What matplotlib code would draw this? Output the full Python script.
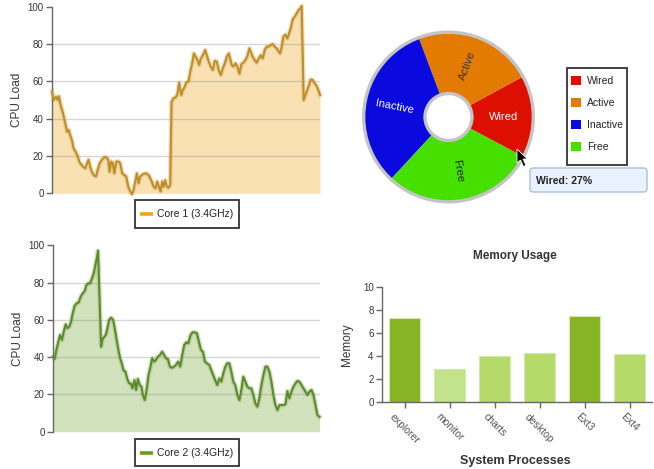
import matplotlib
matplotlib.use("Agg")
import matplotlib.pyplot as plt
from matplotlib.patches import Rectangle, FancyBboxPatch, Circle, Polygon
from matplotlib.lines import Line2D
import math

plt.rcParams['font.family'] = ['Liberation Sans', 'DejaVu Sans']

# ---------------- data ----------------
core1_t = [0, 5, 12, 17, 21, 25, 33, 40, 45, 50, 55, 60, 65, 72, 77, 83, 90, 95, 100, 105,
           110, 115, 120, 125, 132, 137, 143, 150, 157, 163, 169, 173, 178, 183, 187, 193, 200, 205, 211, 217,
           223, 229, 235, 240, 245, 250, 255, 260, 265, 270, 275, 283, 290, 295, 300, 305, 311, 316, 321, 326,
           331, 335, 340, 345, 350, 355, 359, 365, 371, 376, 382, 388, 393, 398, 403, 410, 415, 421, 426, 432,
           437, 442, 447, 453, 460, 465, 471, 477, 483, 489, 495, 501, 507, 513, 519, 525, 531, 535, 540, 545,
           551, 557, 563, 569, 575, 581, 587, 593, 597, 603, 609, 615, 621, 627, 633, 639, 645, 651, 657, 663,
           669, 675, 681, 685, 690, 695, 701, 707, 712, 717, 723, 729, 735, 740, 745, 750, 756, 763, 770, 777,
           783, 789, 795, 800, 805]
core1_load = [54.5, 50, 51.8, 50, 52, 48, 43, 37.5, 33, 34, 31, 28.5, 24, 22, 20, 16.5, 15, 14, 13.4, 16,
              18, 14, 11.6, 9.8, 9, 12.5, 16, 18, 19.3, 19.3, 18, 11.6, 17, 16, 10.7, 17, 17, 16, 10.7, 9.8,
              9, 3.6, 1, -0.5, 1.8, 6.3, 10.7, 5.4, 9, 9.8, 10.4, 10.7, 9.8, 8, 6.3, 3.6, 2.7, 6.3, 3.6, 1,
              6.3, 3.6, 7, 3.6, 3, 4.5, 49, 51, 51.4, 52.7, 59.3, 52.7, 55.4, 56.8, 59.3, 60, 65, 69.6, 75, 73,
              71.4, 68.8, 72.3, 74, 76.8, 74, 70.5, 67.9, 66, 71, 70.5, 66, 63.4, 67, 69.6, 73.2, 75, 72.3, 68.8, 67.9,
              69.6, 67.9, 64, 69.3, 70, 71.4, 73.6, 77.7, 76, 73.2, 71.4, 70, 72.3, 74, 72.3, 76.8, 78.6, 78.6, 79.5, 80,
              78.6, 77.7, 76, 75, 78.6, 84, 85, 83, 85.7, 88.4, 93.2, 94.6, 96.4, 98, 99, 100.4, 50, 53.6, 57, 61,
              60.7, 59, 57.5, 55.4, 52.7]

core2_t = [0, 5, 10, 16, 21, 27, 32, 38, 43, 49, 54, 59, 65, 71, 77, 83, 89, 95, 100, 106,
           111, 117, 122, 127, 131, 135, 140, 144, 149, 154, 158, 163, 168, 174, 180, 185, 190, 196, 201, 206,
           211, 217, 222, 228, 233, 238, 244, 249, 254, 260, 265, 269, 275, 281, 286, 292, 297, 303, 308, 314,
           320, 327, 333, 338, 344, 350, 356, 362, 368, 375, 381, 387, 393, 399, 405, 412, 418, 425, 431, 437,
           443, 449, 455, 461, 468, 474, 480, 486, 492, 498, 504, 510, 516, 522, 528, 534, 540, 546, 552, 558,
           564, 570, 576, 582, 588, 594, 600, 606, 612, 618, 624, 630, 636, 642, 648, 654, 660, 666, 672, 678,
           684, 690, 696, 702, 708, 714, 720, 726, 732, 738, 744, 750, 756, 762, 768, 774, 780, 786, 792, 798]
core2_load = [40.2, 39, 43.8, 48.3, 51.9, 49.2, 53.7, 57.6, 55.5, 56.4, 59, 63.5, 67.6, 68.9, 69.4, 72.5, 74.2, 75.5, 78.7, 79.6,
              79.6, 82.3, 85, 89.4, 93, 97.1, 68, 45.6, 50, 51, 51.9, 55.5, 60, 61.2, 60, 55.5, 50, 43.8, 39.4, 36.7,
              33, 32.2, 28.6, 25.9, 25.9, 23.3, 27.7, 22.4, 28.3, 25, 24.2, 19.7, 17, 23.3, 30.4, 34.9, 39.4, 37.6, 38.5, 40.2,
              41.1, 42.9, 41.1, 39.4, 39, 34.9, 34.3, 34.9, 35.8, 37.6, 34.9, 41.1, 46.5, 47.9, 47.4, 51.9, 53.3, 53.3, 52.8, 48.3,
              43.8, 42.9, 37.6, 36.7, 35.8, 33, 30.2, 27.6, 25, 28.6, 26.8, 31.3, 34.9, 36.7, 36.7, 32.2, 26.8, 25, 19.7, 17,
              22.4, 29.5, 26.8, 24.2, 23.3, 23.3, 19.7, 15.2, 13.4, 17.9, 25, 30.4, 34.9, 34.9, 32.2, 26.8, 19.7, 14.3, 11.6, 14.3,
              14.3, 14.3, 14.7, 21.8, 17.9, 21.5, 24.2, 25.9, 27.2, 26.8, 25, 23.3, 21.5, 19.7, 21.5, 22.4, 19.7, 14.3, 8.9, 8]

cpu_ticks = [0, 20, 40, 60, 80, 100]
cpu_grid = [20, 40, 60, 80]

pie_labels = ['Wired', 'Active', 'Inactive', 'Free']
pie_values = [15.7, 22.8, 32.4, 29.1]
pie_colors = ['#dc0f00', '#e27b00', '#0a0adf', '#45df00']
pie_text_colors = ['white', '#3a3a3a', 'white', '#2a2a2a']
tooltip_text = 'Wired: 27%'

processes = ['explorer', 'monitor', 'charts', 'desktop', 'Ext3', 'Ext4']
memory = [7.3, 2.85, 4.0, 4.25, 7.5, 4.2]
bar_colors = ['#87b425', '#c3e28c', '#b5da6a', '#b5da6a', '#87b425', '#b5da6a']
mem_ticks = [0, 2, 4, 6, 8, 10]

# ---------------- figure ----------------
W, H = 654, 469
fig = plt.figure(figsize=(W / 100, H / 100), dpi=100)


def fx(x):
    return x / W


def fy(y):
    return 1 - y / H


def px_rect(x0, y0, x1, y1):
    return [fx(x0), fy(y1), fx(x1) - fx(x0), fy(y0) - fy(y1)]


def cpu_panel(rect, t, v, line_c, glow_c, fill_c):
    ax = fig.add_axes(rect)
    ax.fill_between(t, v, 0, color=fill_c, lw=0, zorder=1)
    for g in cpu_grid:
        ax.axhline(g, color='#8a8a8a', alpha=0.35, lw=1.0, zorder=1.5)
    ax.plot(t, v, color=glow_c, lw=3.4, alpha=0.45, zorder=2, clip_on=False,
            solid_joinstyle='round')
    ax.plot(t, v, color=line_c, lw=1.5, zorder=3, clip_on=False)
    ax.set_xlim(t[0], t[-1])
    ax.set_ylim(0, 100)
    ax.set_yticks(cpu_ticks)
    ax.set_xticks([])
    for s in ['top', 'right', 'bottom']:
        ax.spines[s].set_visible(False)
    ax.spines['left'].set_color('#666666')
    ax.spines['left'].set_linewidth(1.0)
    ax.tick_params(axis='y', length=4, width=1, color='#666666', labelsize=7,
                   labelcolor='#333333', pad=2)
    ax.set_ylabel('CPU Load', fontsize=8.5, color='#333333', labelpad=3.5)
    ax.patch.set_visible(False)
    return ax


def line_legend(box, color, label):
    x0, y0, x1, y1 = box
    fig.add_artist(Rectangle((fx(x0), fy(y1)), fx(x1) - fx(x0), fy(y0) - fy(y1),
                             transform=fig.transFigure, fill=False, ec='#333333', lw=1.3))
    yc = (y0 + y1) / 2
    fig.add_artist(Line2D([fx(x0 + 5), fx(x0 + 18)], [fy(yc), fy(yc)],
                          transform=fig.transFigure, color=color, lw=2.6, solid_capstyle='butt'))
    fig.text(fx(x0 + 22), fy(yc), label, fontsize=7.5, color='#222222', va='center', ha='left')


cpu_panel(px_rect(52, 6.7, 320, 193.3), core1_t, core1_load, '#bd8f2c', '#e0b868', '#f9e1b4')
line_legend((135, 200, 239, 228), '#f0a418', 'Core 1 (3.4GHz)')

cpu_panel(px_rect(53, 245.3, 319.5, 431.7), core2_t, core2_load, '#5d8a2c', '#9cbc78', '#d2e2bc')
line_legend((135, 439, 239, 466), '#6a9a22', 'Core 2 (3.4GHz)')

# ---------------- pie ----------------
cx, cy, R = 448.5, 117, 87
axp = fig.add_axes(px_rect(cx - R, cy - R, cx + R, cy + R))
wedges, _ = axp.pie(pie_values, colors=pie_colors, startangle=-28, counterclock=True,
                    radius=0.965, wedgeprops=dict(width=0.705, edgecolor='none'))
axp.add_patch(Circle((0, 0), 0.975, fill=False, ec='#c4c4c4', lw=2.4))
axp.add_patch(Circle((0, 0), 0.27, fill=False, ec='#c4c4c4', lw=2.4))
axp.set_xlim(-1, 1)
axp.set_ylim(-1, 1)
axp.set_aspect('auto')
axp.axis('off')
for w, lab, tc in zip(wedges, pie_labels, pie_text_colors):
    th = (w.theta1 + w.theta2) / 2
    r = 0.63
    rot = ((th + 90) % 180) - 90
    axp.text(r * math.cos(math.radians(th)), r * math.sin(math.radians(th)), lab,
             fontsize=8, color=tc, ha='center', va='center', rotation=rot,
             rotation_mode='anchor')

# pie legend
fig.add_artist(Rectangle((fx(567), fy(165)), fx(627) - fx(567), fy(68) - fy(165),
                         transform=fig.transFigure, fill=False, ec='#333333', lw=1.3))
for i, (lab, col) in enumerate(zip(pie_labels, pie_colors)):
    yc = 81 + 22 * i
    fig.add_artist(Rectangle((fx(571), fy(yc + 4.5)), fx(581) - fx(571), fy(yc - 4.5) - fy(yc + 4.5),
                             transform=fig.transFigure, fc=col, ec='none'))
    fig.text(fx(587), fy(yc), lab, fontsize=7.5, color='#222222', va='center', ha='left')

# tooltip
fig.add_artist(FancyBboxPatch((fx(530), fy(192)), fx(647) - fx(530), fy(168) - fy(192),
                              boxstyle='round,pad=0,rounding_size=0.006',
                              transform=fig.transFigure, fc='#e9f1fc', ec='#aabfdc', lw=1.0))
fig.text(fx(536), fy(180.5), tooltip_text, fontsize=7.5, fontweight='bold', color='#222222',
         va='center', ha='left')

# cursor
cur = [(517, 149), (517, 163), (520.5, 160), (523.5, 166.5), (526, 165.5), (523, 159), (527.5, 159)]
fig.add_artist(Polygon([(fx(a), fy(b)) for a, b in cur], closed=True, transform=fig.transFigure,
                       fc='black', ec='white', lw=0.6))

# ---------------- bar chart ----------------
axb = fig.add_axes(px_rect(382, 287, 652, 402))
xs = list(range(len(processes)))
axb.bar(xs, memory, width=0.71, color=bar_colors, edgecolor='#d4e9ad', linewidth=0.8, zorder=2)
axb.set_xlim(-0.5, len(processes) - 0.5)
axb.set_ylim(0, 10)
axb.set_yticks(mem_ticks)
axb.set_xticks(xs)
axb.set_xticklabels(processes, rotation=-45, ha='center', va='top', fontsize=7.5, color='#555555')
for s in ['top', 'right']:
    axb.spines[s].set_visible(False)
for s in ['left', 'bottom']:
    axb.spines[s].set_color('#666666')
    axb.spines[s].set_linewidth(1.0)
axb.tick_params(axis='both', length=4, width=1, color='#666666')
axb.tick_params(axis='y', labelsize=7, labelcolor='#333333', pad=2)
axb.tick_params(axis='x', pad=3)
axb.set_ylabel('Memory', fontsize=8.5, color='#333333', labelpad=7)
axb.patch.set_visible(False)
fig.text(fx(515), fy(256), 'Memory Usage', fontsize=8.5, fontweight='bold', color='#333333',
         ha='center', va='center')
fig.text(fx(515), fy(461), 'System Processes', fontsize=9, fontweight='bold', color='#333333',
         ha='center', va='center')

fig.savefig('out.png', dpi=100)
